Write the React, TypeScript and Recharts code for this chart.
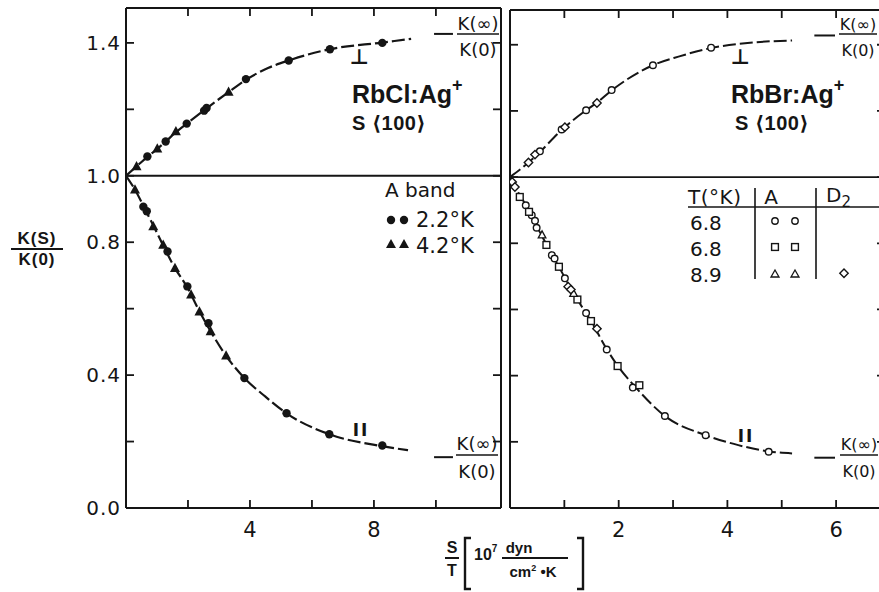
import React from "react";
import { ComposedChart, Line, Scatter, XAxis, YAxis, ReferenceLine } from "recharts";

type P = { x: number; y: number };

// ---------- shared y axis ----------
const yTicks = [0, 0.2, 0.4, 0.6, 0.8, 1.0, 1.2, 1.4];
const yLabeled = [0, 0.4, 0.8, 1.0, 1.4];

// ---------- left panel: RbCl:Ag+ ----------
const rbclXTicks = [2, 4, 6, 8, 10];
const rbclXLabeled = [4, 8];
const rbclPerpCurve: P[] = [
  { x: 0, y: 1 }, { x: 0.34, y: 1.028 }, { x: 0.69, y: 1.057 }, { x: 1.01, y: 1.081 },
  { x: 1.28, y: 1.103 }, { x: 1.61, y: 1.131 }, { x: 1.96, y: 1.157 }, { x: 2.56, y: 1.2 },
  { x: 3.31, y: 1.252 }, { x: 3.87, y: 1.289 }, { x: 4.6, y: 1.325 }, { x: 5.25, y: 1.347 },
  { x: 6.58, y: 1.381 }, { x: 8.27, y: 1.401 }, { x: 9.2, y: 1.412 },
];
const rbclParCurve: P[] = [
  { x: 0, y: 1 }, { x: 0.29, y: 0.958 }, { x: 0.6, y: 0.902 }, { x: 0.9, y: 0.847 },
  { x: 1.2, y: 0.79 }, { x: 1.58, y: 0.722 }, { x: 1.98, y: 0.664 }, { x: 2.37, y: 0.592 },
  { x: 2.73, y: 0.532 }, { x: 3.23, y: 0.458 }, { x: 3.82, y: 0.391 }, { x: 4.5, y: 0.335 },
  { x: 5.18, y: 0.285 }, { x: 6.56, y: 0.222 }, { x: 8.27, y: 0.186 }, { x: 9.1, y: 0.174 },
];
const rbclCircles22: P[] = [
  { x: 0.69, y: 1.058 }, { x: 1.28, y: 1.103 }, { x: 1.96, y: 1.157 }, { x: 2.52, y: 1.196 },
  { x: 2.6, y: 1.204 }, { x: 3.87, y: 1.291 }, { x: 5.25, y: 1.347 }, { x: 6.58, y: 1.381 },
  { x: 8.27, y: 1.4 },
  { x: 0.56, y: 0.907 }, { x: 0.67, y: 0.893 }, { x: 1.34, y: 0.772 }, { x: 1.98, y: 0.667 },
  { x: 2.66, y: 0.556 }, { x: 3.82, y: 0.391 }, { x: 5.18, y: 0.285 }, { x: 6.56, y: 0.222 },
  { x: 8.27, y: 0.188 },
];
const rbclTriangles42: P[] = [
  { x: 0.34, y: 1.028 }, { x: 1.01, y: 1.081 }, { x: 1.61, y: 1.133 }, { x: 3.31, y: 1.252 },
  { x: 0.29, y: 0.958 }, { x: 0.88, y: 0.847 }, { x: 1.2, y: 0.792 }, { x: 1.58, y: 0.722 },
  { x: 2.1, y: 0.642 }, { x: 2.37, y: 0.591 }, { x: 2.73, y: 0.531 }, { x: 3.23, y: 0.458 },
];
const rbclAsymptoteY = [1.427, 0.153];
const rbclAsymptoteX = [9.94, 10.55];

// ---------- right panel: RbBr:Ag+ ----------
const rbbrXTicks = [1, 2, 3, 4, 5, 6];
const rbbrXLabeled = [2, 4, 6];
const rbbrPerpCurve: P[] = [
  { x: 0, y: 1 }, { x: 0.34, y: 1.044 }, { x: 0.5, y: 1.068 }, { x: 0.98, y: 1.147 },
  { x: 1.4, y: 1.202 }, { x: 1.6, y: 1.225 }, { x: 1.87, y: 1.262 }, { x: 2.63, y: 1.338 },
  { x: 3.1, y: 1.364 }, { x: 3.7, y: 1.39 }, { x: 4.5, y: 1.407 }, { x: 5.19, y: 1.413 },
];
const rbbrParCurve: P[] = [
  { x: 0, y: 1 }, { x: 0.09, y: 0.972 }, { x: 0.29, y: 0.915 }, { x: 0.49, y: 0.852 },
  { x: 0.67, y: 0.797 }, { x: 0.9, y: 0.729 }, { x: 1.1, y: 0.669 }, { x: 1.24, y: 0.63 },
  { x: 1.49, y: 0.565 }, { x: 1.78, y: 0.48 }, { x: 1.98, y: 0.43 }, { x: 2.3, y: 0.367 },
  { x: 2.85, y: 0.278 }, { x: 3.6, y: 0.22 }, { x: 4.2, y: 0.19 }, { x: 4.76, y: 0.171 },
  { x: 5.19, y: 0.165 },
];
const rbbrCircles68: P[] = [
  { x: 0.55, y: 1.078 }, { x: 0.95, y: 1.144 }, { x: 1.4, y: 1.202 }, { x: 1.87, y: 1.263 },
  { x: 2.63, y: 1.338 }, { x: 3.7, y: 1.391 },
  { x: 0.29, y: 0.915 }, { x: 0.4, y: 0.885 }, { x: 0.46, y: 0.868 }, { x: 0.49, y: 0.847 },
  { x: 0.77, y: 0.764 }, { x: 0.82, y: 0.754 }, { x: 1.01, y: 0.694 }, { x: 1.4, y: 0.589 },
  { x: 1.78, y: 0.479 }, { x: 2.26, y: 0.364 }, { x: 2.85, y: 0.278 }, { x: 3.6, y: 0.22 },
  { x: 4.76, y: 0.17 },
];
const rbbrSquares68: P[] = [
  { x: 0.18, y: 0.94 }, { x: 0.35, y: 0.895 }, { x: 0.67, y: 0.795 }, { x: 0.9, y: 0.729 },
  { x: 1.24, y: 0.63 }, { x: 1.49, y: 0.565 }, { x: 1.98, y: 0.429 }, { x: 2.38, y: 0.371 },
];
const rbbrTriangles89: P[] = [
  { x: 0.59, y: 0.825 }, { x: 1.17, y: 0.648 },
];
const rbbrDiamonds89: P[] = [
  { x: 0.34, y: 1.044 }, { x: 0.46, y: 1.068 }, { x: 1.01, y: 1.151 }, { x: 1.6, y: 1.224 },
  { x: 0.04, y: 0.985 }, { x: 0.09, y: 0.97 }, { x: 1.07, y: 0.669 }, { x: 1.12, y: 0.66 },
  { x: 1.6, y: 0.542 },
];
const rbbrAsymptoteY = [1.428, 0.152];
const rbbrAsymptoteX = [5.6, 5.98];

// ---------- styling ----------
const INK = "#151515";
const SANS = '"DejaVu Sans", "Liberation Sans", sans-serif';
const BOLD = '"Liberation Sans", "DejaVu Sans", sans-serif';
const TICK = 8;

function sameVal(a: number, b: number) {
  return Math.abs(a - b) < 1e-6;
}

function makeTick(orient: "bottom" | "top" | "left" | "right", labeled: number[], fmt: (v: number) => string) {
  return (props: any) => {
    const { x, y, payload } = props;
    const v = Number(payload && payload.value);
    const show = labeled.some((l) => sameVal(l, v));
    let line: any = null;
    let text: any = null;
    if (orient === "bottom") {
      line = <line x1={x} y1={y} x2={x} y2={y - TICK} stroke={INK} strokeWidth={1.8} />;
      if (show)
        text = (
          <text x={x} y={y + 29} textAnchor="middle" fontFamily={SANS} fontSize={21} fill={INK}>
            {fmt(v)}
          </text>
        );
    } else if (orient === "top") {
      line = <line x1={x} y1={y} x2={x} y2={y + TICK} stroke={INK} strokeWidth={1.8} />;
    } else if (orient === "left") {
      line = <line x1={x} y1={y} x2={x + TICK} y2={y} stroke={INK} strokeWidth={1.8} />;
      if (show)
        text = (
          <text x={x - 5} y={y + 7} textAnchor="end" fontFamily={SANS} fontSize={20} fill={INK} letterSpacing={1}>
            {fmt(v)}
          </text>
        );
    } else {
      line = <line x1={x} y1={y} x2={x - TICK} y2={y} stroke={INK} strokeWidth={1.8} />;
    }
    return (
      <g>
        {line}
        {text}
      </g>
    );
  };
}

const fmtInt = (v: number) => String(Math.round(v));
const fmtOne = (v: number) => v.toFixed(1);

// ---------- markers ----------
const FilledCircle = (p: any) => <circle cx={p.cx} cy={p.cy} r={4.2} fill={INK} />;
const FilledTriangle = (p: any) => {
  const s = 5;
  return (
    <polygon
      points={`${p.cx},${p.cy - s * 1.1} ${p.cx - s},${p.cy + s * 0.75} ${p.cx + s},${p.cy + s * 0.75}`}
      fill={INK}
    />
  );
};
const OpenCircle = (p: any) => <circle cx={p.cx} cy={p.cy} r={3.3} fill="#fff" stroke={INK} strokeWidth={1.4} />;
const OpenSquare = (p: any) => (
  <rect x={p.cx - 3.4} y={p.cy - 3.4} width={6.8} height={6.8} fill="#fff" stroke={INK} strokeWidth={1.4} />
);
const OpenTriangle = (p: any) => {
  const s = 3.8;
  return (
    <polygon
      points={`${p.cx},${p.cy - s * 1.1} ${p.cx - s},${p.cy + s * 0.75} ${p.cx + s},${p.cy + s * 0.75}`}
      fill="#fff"
      stroke={INK}
      strokeWidth={1.3}
    />
  );
};
const OpenDiamond = (p: any) => {
  const s = 4.2;
  return (
    <polygon
      points={`${p.cx},${p.cy - s} ${p.cx + s},${p.cy} ${p.cx},${p.cy + s} ${p.cx - s},${p.cy}`}
      fill="#fff"
      stroke={INK}
      strokeWidth={1.4}
    />
  );
};

const axisLine = { stroke: INK, strokeWidth: 2 };
const DASH = "13 4";

function axes(xDomain: [number, number], xTicks: number[], xLabeled: number[], yLab: number[]) {
  return [
    <XAxis
      key="xb"
      xAxisId="b"
      type="number"
      dataKey="x"
      domain={xDomain}
      allowDataOverflow
      ticks={xTicks}
      interval={0}
      height={1}
      tickSize={0}
      tickMargin={0}
      tickLine={false}
      axisLine={axisLine}
      tick={makeTick("bottom", xLabeled, fmtInt)}
    />,
    <XAxis
      key="xt"
      xAxisId="t"
      orientation="top"
      type="number"
      dataKey="x"
      domain={xDomain}
      allowDataOverflow
      ticks={xTicks}
      interval={0}
      height={1}
      tickSize={0}
      tickMargin={0}
      tickLine={false}
      axisLine={axisLine}
      tick={makeTick("top", [], fmtInt)}
    />,
    <YAxis
      key="yl"
      yAxisId="l"
      type="number"
      dataKey="y"
      domain={[0, 1.505]}
      allowDataOverflow
      ticks={yTicks}
      interval={0}
      width={1}
      tickSize={0}
      tickMargin={0}
      tickLine={false}
      axisLine={axisLine}
      tick={makeTick("left", yLab, fmtOne)}
    />,
    <YAxis
      key="yr"
      yAxisId="r"
      orientation="right"
      type="number"
      dataKey="y"
      domain={[0, 1.505]}
      allowDataOverflow
      ticks={yTicks}
      interval={0}
      width={1}
      tickSize={0}
      tickMargin={0}
      tickLine={false}
      axisLine={axisLine}
      tick={makeTick("right", [], fmtOne)}
    />,
  ];
}

function LeftPanel() {
  return (
    <ComposedChart width={505} height={592} margin={{ top: 7, right: 3, bottom: 83, left: 125 }}>
      {axes([0, 12.1], rbclXTicks, rbclXLabeled, yLabeled)}
      <ReferenceLine xAxisId="b" yAxisId="l" y={1} stroke={INK} strokeWidth={1.8} />
      {rbclAsymptoteY.map((a, i) => (
        <ReferenceLine
          key={"a" + i}
          xAxisId="b"
          yAxisId="l"
          segment={[
            { x: rbclAsymptoteX[0], y: a },
            { x: rbclAsymptoteX[1], y: a },
          ]}
          stroke={INK}
          strokeWidth={2}
        />
      ))}
      <Line xAxisId="b" yAxisId="l" data={rbclPerpCurve} dataKey="y" type="monotone" stroke={INK} strokeWidth={2.2} strokeDasharray={DASH} dot={false} isAnimationActive={false} />
      <Line xAxisId="b" yAxisId="l" data={rbclParCurve} dataKey="y" type="monotone" stroke={INK} strokeWidth={2.2} strokeDasharray={DASH} dot={false} isAnimationActive={false} />
      <Scatter xAxisId="b" yAxisId="l" data={rbclCircles22} dataKey="y" shape={FilledCircle} isAnimationActive={false} />
      <Scatter xAxisId="b" yAxisId="l" data={rbclTriangles42} dataKey="y" shape={FilledTriangle} isAnimationActive={false} />
    </ComposedChart>
  );
}

function RightPanel() {
  return (
    <ComposedChart width={400} height={592} margin={{ top: 9, right: 14, bottom: 83, left: 9 }}>
      {axes([0, 6.9], rbbrXTicks, rbbrXLabeled, [])}
      <ReferenceLine xAxisId="b" yAxisId="l" y={1} stroke={INK} strokeWidth={1.8} />
      {rbbrAsymptoteY.map((a, i) => (
        <ReferenceLine
          key={"a" + i}
          xAxisId="b"
          yAxisId="l"
          segment={[
            { x: rbbrAsymptoteX[0], y: a },
            { x: rbbrAsymptoteX[1], y: a },
          ]}
          stroke={INK}
          strokeWidth={2}
        />
      ))}
      <Line xAxisId="b" yAxisId="l" data={rbbrPerpCurve} dataKey="y" type="monotone" stroke={INK} strokeWidth={2} strokeDasharray={DASH} dot={false} isAnimationActive={false} />
      <Line xAxisId="b" yAxisId="l" data={rbbrParCurve} dataKey="y" type="monotone" stroke={INK} strokeWidth={2} strokeDasharray={DASH} dot={false} isAnimationActive={false} />
      <Scatter xAxisId="b" yAxisId="l" data={rbbrCircles68} dataKey="y" shape={OpenCircle} isAnimationActive={false} />
      <Scatter xAxisId="b" yAxisId="l" data={rbbrSquares68} dataKey="y" shape={OpenSquare} isAnimationActive={false} />
      <Scatter xAxisId="b" yAxisId="l" data={rbbrTriangles89} dataKey="y" shape={OpenTriangle} isAnimationActive={false} />
      <Scatter xAxisId="b" yAxisId="l" data={rbbrDiamonds89} dataKey="y" shape={OpenDiamond} isAnimationActive={false} />
    </ComposedChart>
  );
}

function Frac(props: { x: number; yTop: number; yLine: number; yBot: number; top: string; bot: string; w: number; size: number }) {
  const { x, yTop, yLine, yBot, top, bot, w, size } = props;
  return (
    <g>
      <text x={x + w / 2} y={yTop} textAnchor="middle" fontFamily={SANS} fontSize={size} fill={INK}>
        {top}
      </text>
      <line x1={x} x2={x + w} y1={yLine} y2={yLine} stroke={INK} strokeWidth={1.6} />
      <text x={x + w / 2} y={yBot} textAnchor="middle" fontFamily={SANS} fontSize={size} fill={INK}>
        {bot}
      </text>
    </g>
  );
}

function Overlay() {
  const t = { fontFamily: SANS, fill: INK } as any;
  const b = { fontFamily: BOLD, fill: INK, fontWeight: 700 } as any;
  return (
    <svg width={879} height={592} style={{ position: "absolute", left: 0, top: 0, pointerEvents: "none" }}>
      {/* y label */}
      <text x={37} y={244} textAnchor="middle" fontSize={17} letterSpacing={1} {...b}>K(S)</text>
      <line x1={11} x2={63} y1={249} y2={249} stroke={INK} strokeWidth={2} />
      <text x={37} y={265} textAnchor="middle" fontSize={17} letterSpacing={1} {...b}>K(0)</text>

      {/* x label */}
      <text x={452} y={553} textAnchor="middle" fontSize={16} {...b}>S</text>
      <line x1={445} x2={459} y1={558} y2={558} stroke={INK} strokeWidth={2} />
      <text x={452} y={576} textAnchor="middle" fontSize={16} {...b}>T</text>
      <path d="M471,538 L465,538 L465,589 L471,589" fill="none" stroke={INK} strokeWidth={2.4} />
      <text x={474} y={560} fontSize={16} {...b}>10<tspan dy={-8} fontSize={10}>7</tspan></text>
      <text x={519} y={553} textAnchor="middle" fontSize={15} {...b}>dyn</text>
      <line x1={502} x2={568} y1={558} y2={558} stroke={INK} strokeWidth={1.8} />
      <text x={533} y={577} textAnchor="middle" fontSize={15} {...b}>cm<tspan dy={-6} fontSize={9}>2</tspan><tspan dy={6}> •K</tspan></text>
      <path d="M577,538 L583,538 L583,589 L577,589" fill="none" stroke={INK} strokeWidth={2.4} />

      {/* left panel annotations */}
      <text x={352} y={103} fontSize={25} {...b}>RbCl:Ag<tspan dy={-12} fontSize={18}>+</tspan></text>
      <text x={352} y={130} fontSize={20} {...b} letterSpacing={0.5}>S ⟨100⟩</text>
      <text x={359} y={64} textAnchor="middle" fontSize={21} fontWeight={700} {...t}>⊥</text>
      <text x={361} y={436} textAnchor="middle" fontSize={17} fontWeight={700} {...t} letterSpacing={2}>II</text>
      <Frac x={457} yTop={30} yLine={34} yBot={56} top="K(∞)" bot="K(0)" w={42} size={18} />
      <Frac x={456} yTop={450} yLine={455} yBot={478} top="K(∞)" bot="K(0)" w={42} size={18} />
      <text x={385} y={197} fontSize={20} {...t}>A band</text>
      <circle cx={391} cy={220} r={4.2} fill={INK} />
      <circle cx={404} cy={220} r={4.2} fill={INK} />
      <text x={416} y={227} fontSize={21} {...t}>2.2°K</text>
      <polygon points="391,239 386,248 396,248" fill={INK} />
      <polygon points="404,239 399,248 409,248" fill={INK} />
      <text x={416} y={253} fontSize={21} {...t}>4.2°K</text>

      {/* right panel annotations */}
      <text x={731} y={103} fontSize={25} {...b}>RbBr:Ag<tspan dy={-12} fontSize={18}>+</tspan></text>
      <text x={735} y={130} fontSize={20} {...b} letterSpacing={0.5}>S ⟨100⟩</text>
      <text x={740} y={64} textAnchor="middle" fontSize={21} fontWeight={700} {...t}>⊥</text>
      <text x={746} y={442} textAnchor="middle" fontSize={17} fontWeight={700} {...t} letterSpacing={2}>II</text>
      <Frac x={839} yTop={30} yLine={34} yBot={56} top="K(∞)" bot="K(0)" w={38} size={16} />
      <Frac x={840} yTop={450} yLine={455} yBot={477} top="K(∞)" bot="K(0)" w={38} size={16} />

      {/* table */}
      <text x={688} y={204} fontSize={20} {...t} letterSpacing={0.5}>T(°K)</text>
      <text x={771} y={204} textAnchor="middle" fontSize={20} {...t}>A</text>
      <text x={826} y={202} fontSize={20} {...t}>D<tspan dy={5} fontSize={15}>2</tspan></text>
      <line x1={688} x2={879} y1={207} y2={207} stroke={INK} strokeWidth={1.6} />
      <line x1={755} x2={755} y1={188} y2={279} stroke={INK} strokeWidth={1.6} />
      <line x1={816} x2={816} y1={188} y2={279} stroke={INK} strokeWidth={1.6} />
      <text x={690} y={230} fontSize={20} {...t}>6.8</text>
      <text x={690} y={256} fontSize={20} {...t}>6.8</text>
      <text x={690} y={282} fontSize={20} {...t}>8.9</text>
      <circle cx={775} cy={221} r={3.2} fill="#fff" stroke={INK} strokeWidth={1.4} />
      <circle cx={795} cy={221} r={3.2} fill="#fff" stroke={INK} strokeWidth={1.4} />
      <rect x={771.6} y={243.6} width={6.8} height={6.8} fill="#fff" stroke={INK} strokeWidth={1.4} />
      <rect x={791.6} y={243.6} width={6.8} height={6.8} fill="#fff" stroke={INK} strokeWidth={1.4} />
      <polygon points="775,270 771,277 779,277" fill="#fff" stroke={INK} strokeWidth={1.3} />
      <polygon points="795,270 791,277 799,277" fill="#fff" stroke={INK} strokeWidth={1.3} />
      <polygon points="844,269 848.2,273.2 844,277.4 839.8,273.2" fill="#fff" stroke={INK} strokeWidth={1.4} />
    </svg>
  );
}

export default function App() {
  return (
    <div
      style={{
        position: "fixed",
        left: 0,
        top: 0,
        width: 879,
        height: 592,
        overflow: "hidden",
        background: "#fff",
      }}
    >
      <div style={{ position: "absolute", left: 0, top: 0 }}>
        <LeftPanel />
      </div>
      <div style={{ position: "absolute", left: 500, top: 0 }}>
        <RightPanel />
      </div>
      <Overlay />
    </div>
  );
}
